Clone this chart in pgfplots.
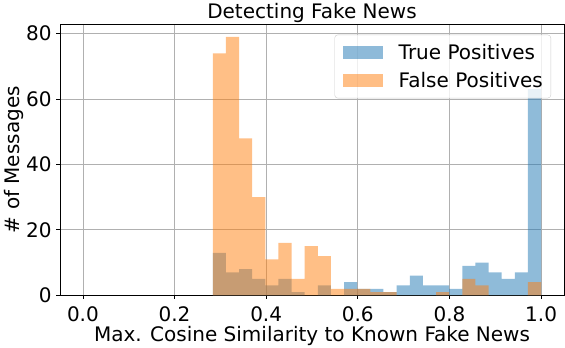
\documentclass[border=0pt]{standalone}
\usepackage{fontspec}
\setmainfont{DejaVu Sans}
\usepackage{pgfplots}
\pgfplotsset{compat=1.18}

\definecolor{tpblue}{HTML}{1F77B4}
\definecolor{fporange}{HTML}{FF7F0E}
\definecolor{gridgray}{HTML}{B0B0B0}
\definecolor{legframe}{HTML}{CCCCCC}
\newcommand\fs{\fontsize{20}{24}\selectfont}

\begin{document}
\begin{tikzpicture}
\begin{axis}[
  scale only axis, width=504pt, height=271.3pt,
  xmin=-0.05, xmax=1.05, ymin=0, ymax=82.95,
  xtick={0,0.2,0.4,0.6,0.8,1.0},
  xticklabels={0.0,0.2,0.4,0.6,0.8,1.0},
  ytick={0,20,40,60,80},
  tick pos=left, tick align=outside, major tick length=3.5pt,
  tick style={black, line width=0.8pt},
  axis line style={line width=0.8pt},
  grid=major, grid style={gridgray, line width=0.8pt},
  /pgf/number format/assume math mode=true,
  ticklabel style={font=\fs},
  xticklabel style={anchor=north, inner sep=0pt, yshift=-7.2pt},
  yticklabel style={anchor=east, inner sep=0pt, xshift=-4.8pt},
  title={Detecting Fake News},
  every axis title/.style={font=\fs, inner sep=0pt,
    at={(axis description cs:0.5,1)}, anchor=base, yshift=5pt},
  xlabel={Max. Cosine Similarity to Known Fake News},
  every axis x label/.style={font=\fs, inner sep=0pt,
    at={(axis description cs:0.5,-0.1721)}, anchor=base},
  ylabel={\# of Messages},
  every axis y label/.style={font=\fs, inner sep=0pt, rotate=90,
    at={(axis description cs:-0.0808,0.5)}, anchor=base},
  legend cell align=left,
  legend style={at={(axis description cs:1,1)}, anchor=north east,
    xshift=-13pt, yshift=-10.7pt, draw=legframe, rounded corners=3pt,
    fill=white, fill opacity=0.8, text opacity=1, font=\fs,
    inner xsep=8pt, inner ysep=9pt, row sep=11.8pt, column sep=16pt,
    nodes={inner sep=0pt}},
]
% true positives
\addplot[const plot, draw=none, fill=tpblue, fill opacity=0.5, forget plot] coordinates {
(0.2834,13) (0.3121,7) (0.3407,8) (0.3694,5) (0.3981,3) (0.4267,5)
(0.4554,1) (0.4841,0) (0.5127,3) (0.5414,0) (0.5700,4) (0.5987,2)
(0.6274,2) (0.6560,1) (0.6847,3) (0.7134,6) (0.7420,3) (0.7707,3)
(0.7994,2) (0.8280,9) (0.8567,10) (0.8854,7) (0.9140,5) (0.9427,7)
(0.9713,63) (1.0000,63)
} \closedcycle;
% false positives
\addplot[const plot, draw=none, fill=fporange, fill opacity=0.5, forget plot] coordinates {
(0.2834,74) (0.3121,79) (0.3407,48) (0.3694,30) (0.3981,11) (0.4267,16)
(0.4554,5) (0.4841,15) (0.5127,12) (0.5414,2) (0.5700,2) (0.5987,2)
(0.6274,1) (0.6560,1) (0.6847,0) (0.7134,0) (0.7420,0) (0.7707,1)
(0.7994,0) (0.8280,5) (0.8567,3) (0.8854,0) (0.9140,0) (0.9427,0)
(0.9713,4) (1.0000,4)
} \closedcycle;
\addlegendimage{legend image code/.code={\path[draw=none, fill=tpblue, fill opacity=0.5, sharp corners] (0pt,-6.7pt) rectangle (40pt,6.7pt);}}
\addlegendentry{True Positives}
\addlegendimage{legend image code/.code={\path[draw=none, fill=fporange, fill opacity=0.5, sharp corners] (0pt,-6.7pt) rectangle (40pt,6.7pt);}}
\addlegendentry{False Positives}
\end{axis}
\path (current axis.south west) ++(-60pt,-52.7pt) rectangle ++(565pt,348pt);
\end{tikzpicture}
\end{document}
